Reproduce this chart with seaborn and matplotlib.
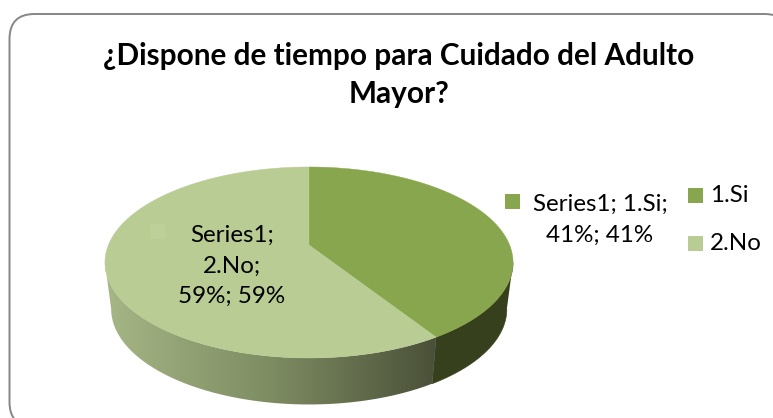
import numpy as np
import matplotlib
matplotlib.use("Agg")
import matplotlib.pyplot as plt
from matplotlib.patches import FancyBboxPatch, PathPatch, Rectangle
from matplotlib.path import Path
import seaborn as sns

# Survey answers
categories = ["1.Si", "2.No"]
series_name = "Series1"
shares = [41, 59]
title = "¿Dispone de tiempo para Cuidado del Adulto\nMayor?"

sns.set_theme(style="white")
plt.rcParams["font.family"] = ["Lato", "DejaVu Sans"]

face_colors = ["#88A64E", "#B8CC93"]
wall_dark = "#37401C"
wall_ramp = sns.blend_palette(["#A6B686", "#7E8C62", "#4A5038"], as_cmap=True)

W, H = 773, 418
fig = plt.figure(figsize=(W / 100, H / 100), dpi=100)
ax = fig.add_axes([0, 0, 1, 1])
ax.set_xlim(0, W)
ax.set_ylim(H, 0)
ax.axis("off")

# Rounded chart frame, running off the right and bottom edges
ax.add_patch(FancyBboxPatch((9.5, 14), 780, 413,
                            boxstyle="round,pad=0,rounding_size=25",
                            fc="white", ec="#868686", lw=1.4))

CX = 309.0
TILT = 0.183


def project(theta, y0, a, b):
    """Perspective projection of a disc point; theta runs clockwise from twelve o'clock."""
    u, v = np.sin(theta), np.cos(theta)
    w = 1 + TILT * v
    return CX + a * u / w, y0 - b * v / w


TOP = dict(y0=245.0, a=200.6, b=92.3)
BOTTOM = dict(y0=291.5, a=194.5, b=92.3)

fractions = np.cumsum([0] + shares) / sum(shares)
angles = 2 * np.pi * fractions


def wall_path(t0, t1):
    ts = np.linspace(t0, t1, 200)
    xt, yt = project(ts, **TOP)
    xb, yb = project(ts[::-1], **BOTTOM)
    return Path(np.column_stack([np.r_[xt, xb], np.r_[yt, yb]]))


# Side wall between the silhouette tangents, split at the slice boundary
tangent = np.arccos(-TILT)
split = angles[1]
right_wall = wall_path(tangent, split)
ax.add_patch(PathPatch(right_wall, fc=wall_dark, ec=wall_dark, lw=0.4, zorder=2))

left_wall = PathPatch(wall_path(split, 2 * np.pi - tangent), fc="none", ec="none", zorder=2)
ax.add_patch(left_wall)
xedge = project(split, **TOP)[0]
ramp = ax.imshow(np.linspace(0, 1, 256)[None, :], cmap=wall_ramp, aspect="auto",
                 extent=(105, xedge, 420, 250), zorder=2)
ramp.set_clip_path(left_wall)
ax.set_xlim(0, W)
ax.set_ylim(H, 0)

# Top face
for i, color in enumerate(face_colors):
    ts = np.linspace(angles[i], angles[i + 1], 300)
    xs, ys = project(ts, **TOP)
    ax.fill(np.r_[CX, xs], np.r_[TOP["y0"], ys], color=color, lw=0.3, zorder=3)

ax.text(399, 75, title, ha="center", va="center", fontsize=21.4,
        fontweight="bold", color="black", linespacing=1.42, zorder=5)

# Data labels
no_label = f"{series_name};\n{categories[1]};\n{shares[1]}%; {shares[1]}%"
si_label = f"{series_name}; {categories[0]};\n{shares[0]}%; {shares[0]}%"
ax.text(232, 266, no_label, ha="center", va="center", fontsize=17.4,
        color="black", linespacing=1.55, zorder=5)
ax.text(600, 220, si_label, ha="center", va="center", fontsize=17.4,
        color="black", linespacing=1.55, zorder=5)
ax.add_patch(Rectangle((150, 224), 15, 15, fc="#BDD09A", ec="none", zorder=4))
ax.add_patch(Rectangle((505, 194), 15, 15, fc=face_colors[0], ec="none", zorder=4))

# Legend
for cat, color, ypos in zip(categories, face_colors, (195, 243)):
    ax.add_patch(Rectangle((688, ypos - 7), 15, 15, fc=color, ec="none", zorder=4))
    ax.text(710, ypos, cat, ha="left", va="center", fontsize=17.4, color="black", zorder=5)

fig.savefig("out.png", dpi=100)
